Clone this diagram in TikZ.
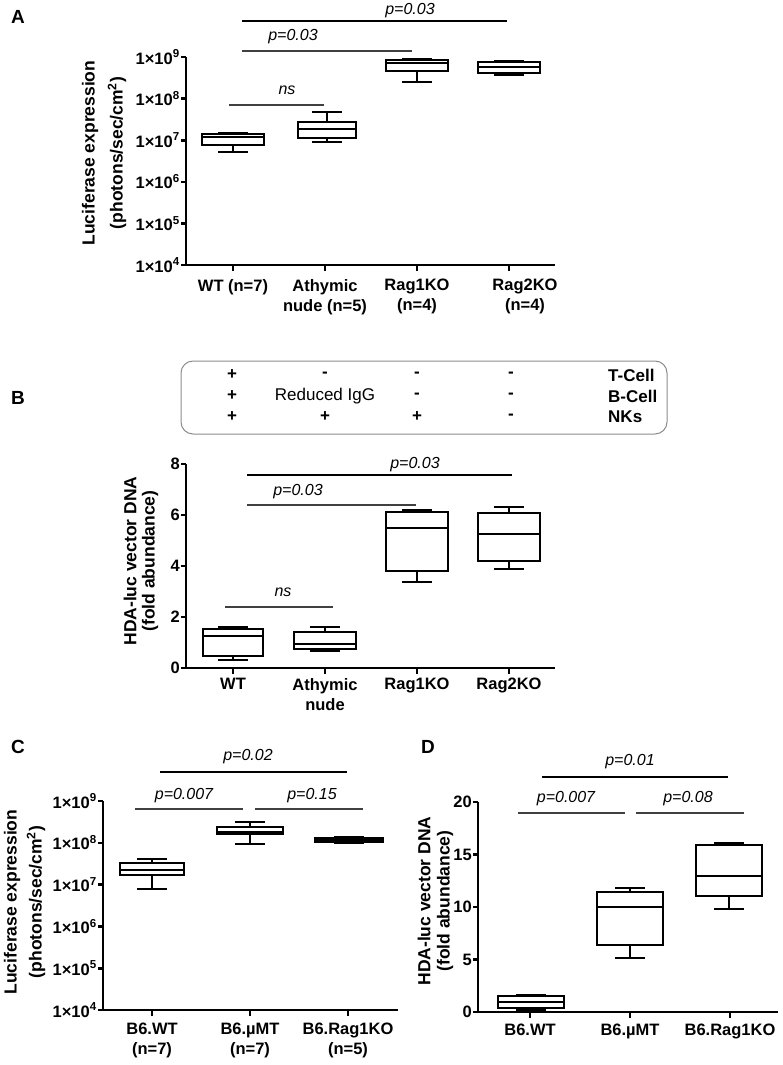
\documentclass[tikz,border=0pt]{standalone}
\usepackage{fontspec}
\setmainfont{Liberation Sans}

\newcommand{\bplot}[7]{%
  \draw[boxln] (#1-#7,#3) rectangle (#1+#7,#5) (#1-#7,#4) -- (#1+#7,#4)
    (#1,#3) -- (#1,#2) (#1-15,#2) -- (#1+15,#2)
    (#1,#5) -- (#1,#6) (#1-15,#6) -- (#1+15,#6);}

\begin{document}
\begin{tikzpicture}[x=1pt, y=-1pt, every node/.style={inner sep=0pt},
  axln/.style={line width=2.6pt},
  boxln/.style={line width=2.1pt},
  sigthick/.style={line width=2.1pt},
  sigthin/.style={line width=1.1pt, black!75},
  ytl/.style={anchor=east, font=\fontsize{16.5}{18}\selectfont\bfseries},
  xtl/.style={anchor=north, align=center, font=\fontsize{16.5}{20}\selectfont\bfseries},
  ttl/.style={rotate=90, font=\fontsize{17.5}{19}\selectfont\bfseries},
  pval/.style={font=\fontsize{16}{18}\selectfont\itshape},
  letter/.style={font=\fontsize{19}{21}\selectfont\bfseries},
  tab/.style={font=\fontsize{17}{19}\selectfont\bfseries},
  tabreg/.style={font=\fontsize{17}{19}\selectfont}]
  \useasboundingbox (0,0) rectangle (783,1065);

  \node[letter] (la) at (18,17) {A};
  \node[letter] (lb) at (18,398) {B};
  \node[letter] (lc) at (18,747) {C};
  \node[letter] (ld) at (428,747) {D};

  \draw[axln] (186,57) -- (186,265) -- (555,265);
  \foreach \e [count=\i from 0] in {4,...,9}
    \draw[axln] (186,265-41.6*\i) -- ++(-5,0) node[ytl] (ya\e) {1×10\textsuperscript{\e}};
  \foreach \x in {233,325,417,509}
    \draw[axln] (\x,265) -- ++(0,6);
  \node[xtl] (xa1) at (233,279) {WT (n=7)};
  \node[xtl] (xa2) at (325,279) {Athymic\\nude (n=5)};
  \node[xtl] (xa3) at (417,279) {Rag1KO\\(n=4)};
  \node[xtl] (xa4) at (525,279) {Rag2KO\\(n=4)};
  \node[ttl] (ta1) at (90,153) {Luciferase expression};
  \node[ttl] (ta2) at (117,153) {(photons/sec/cm\textsuperscript{2})};
  \bplot{233}{152}{145}{137}{134}{133}{31}
  \bplot{327}{142}{138}{129}{122}{112}{29}
  \bplot{417}{82}{71}{63}{60}{59}{31}
  \bplot{509}{75}{73}{67}{62}{61}{31}
  \draw[sigthick] (242,21) -- (507,21);
  \node[pval] (pa1) at (410,11) {p=0.03};
  \draw[sigthin] (242,51) -- (412,51);
  \node[pval] (pa2) at (293,37) {p=0.03};
  \draw[sigthin] (229,105) -- (324,105);
  \node[pval] (pa3) at (287,90) {ns};

  \draw[black!45, line width=1pt, rounded corners=12pt] (181,361) rectangle (667,434);
  \node[tab] (t11) at (232,375) {+};
  \node[tab] (t21) at (232,396) {+};
  \node[tab] (t31) at (232,417) {+};
  \node[tab] (t12) at (325,375) {-};
  \node[tabreg] (t22) at (325,396) {Reduced IgG};
  \node[tab] (t32) at (325,417) {+};
  \node[tab] (t13) at (417,375) {-};
  \node[tab] (t23) at (417,396) {-};
  \node[tab] (t33) at (417,417) {+};
  \node[tab] (t14) at (511,375) {-};
  \node[tab] (t24) at (511,396) {-};
  \node[tab] (t34) at (511,417) {-};
  \node[tab, anchor=west] (tc1) at (608,375) {T-Cell};
  \node[tab, anchor=west] (tc2) at (608,396) {B-Cell};
  \node[tab, anchor=west] (tc3) at (608,417) {NKs};

  \draw[axln] (186,464) -- (186,668) -- (555,668);
  \foreach \v [count=\i from 0] in {0,2,4,6,8}
    \draw[axln] (186,668-51*\i) -- ++(-5,0) node[ytl] (yb\v) {\v};
  \foreach \x in {233,325,417,509}
    \draw[axln] (\x,668) -- ++(0,6);
  \node[xtl] (xb1) at (233,678) {WT};
  \node[xtl] (xb2) at (325,678) {Athymic\\nude};
  \node[xtl] (xb3) at (417,678) {Rag1KO};
  \node[xtl] (xb4) at (509,678) {Rag2KO};
  \node[ttl] (tb1) at (130,561) {HDA-luc vector DNA};
  \node[ttl] (tb2) at (150,561) {(fold abundance)};
  \bplot{233}{660}{656}{636}{629}{627}{30}
  \bplot{325}{651}{649}{644}{632}{627}{31}
  \bplot{417}{582}{571}{528}{512}{510}{31}
  \bplot{509}{569}{561}{534}{513}{507}{31}
  \draw[sigthick] (247,475) -- (512,475);
  \node[pval] (pb1) at (415,465) {p=0.03};
  \draw[sigthin] (247,505) -- (416,505);
  \node[pval] (pb2) at (298,492) {p=0.03};
  \draw[sigthin] (225,607) -- (333,607);
  \node[pval] (pb3) at (283,592) {ns};

  \draw[axln] (103,801) -- (103,1010) -- (398,1010);
  \foreach \e [count=\i from 0] in {4,...,9}
    \draw[axln] (103,1010-41.8*\i) -- ++(-5,0) node[ytl] (yc\e) {1×10\textsuperscript{\e}};
  \foreach \x in {152,250,348}
    \draw[axln] (\x,1010) -- ++(0,6);
  \node[xtl] (xc1) at (152,1023) {B6.WT\\(n=7)};
  \node[xtl] (xc2) at (250,1023) {B6.µMT\\(n=7)};
  \node[xtl] (xc3) at (348,1023) {B6.Rag1KO\\(n=5)};
  \node[ttl] (tc1) at (12,902) {Luciferase expression};
  \node[ttl] (tc2) at (36,902) {(photons/sec/cm\textsuperscript{2})};
  \bplot{152}{889}{875}{870}{863}{859}{32}
  \bplot{250}{844}{834}{832}{827}{822}{33}
  \bplot{349}{843}{842}{840}{838}{837}{34}
  \draw[sigthick] (160,772) -- (347,772);
  \node[pval] (pc1) at (248,757) {p=0.02};
  \draw[sigthin] (135,809) -- (243,809);
  \node[pval] (pc2) at (184,796) {p=0.007};
  \draw[sigthin] (255,809) -- (363,809);
  \node[pval] (pc3) at (312,796) {p=0.15};

  \draw[axln] (478,802) -- (478,1012) -- (778,1012);
  \foreach \v [count=\i from 0] in {0,5,10,15,20}
    \draw[axln] (478,1012-52.5*\i) -- ++(-5,0) node[ytl] (yd\v) {\v};
  \foreach \x in {530,630,730}
    \draw[axln] (\x,1012) -- ++(0,6);
  \node[xtl] (xd1) at (530,1024) {B6.WT};
  \node[xtl] (xd2) at (630,1024) {B6.µMT};
  \node[xtl] (xd3) at (730,1024) {B6.Rag1KO};
  \node[ttl] (td1) at (424,901) {HDA-luc vector DNA};
  \node[ttl] (td2) at (445,901) {(fold abundance)};
  \bplot{531}{1010}{1008}{1002}{996}{995}{33}
  \bplot{630}{958}{945}{907}{892}{888}{33}
  \bplot{729}{909}{896}{876}{845}{843}{33}
  \draw[sigthick] (542,777) -- (728,777);
  \node[pval] (pd1) at (630,762) {p=0.01};
  \draw[sigthin] (518,813) -- (625,813);
  \node[pval] (pd2) at (566,799) {p=0.007};
  \draw[sigthin] (636,813) -- (744,813);
  \node[pval] (pd3) at (688,799) {p=0.08};
\end{tikzpicture}
\end{document}
